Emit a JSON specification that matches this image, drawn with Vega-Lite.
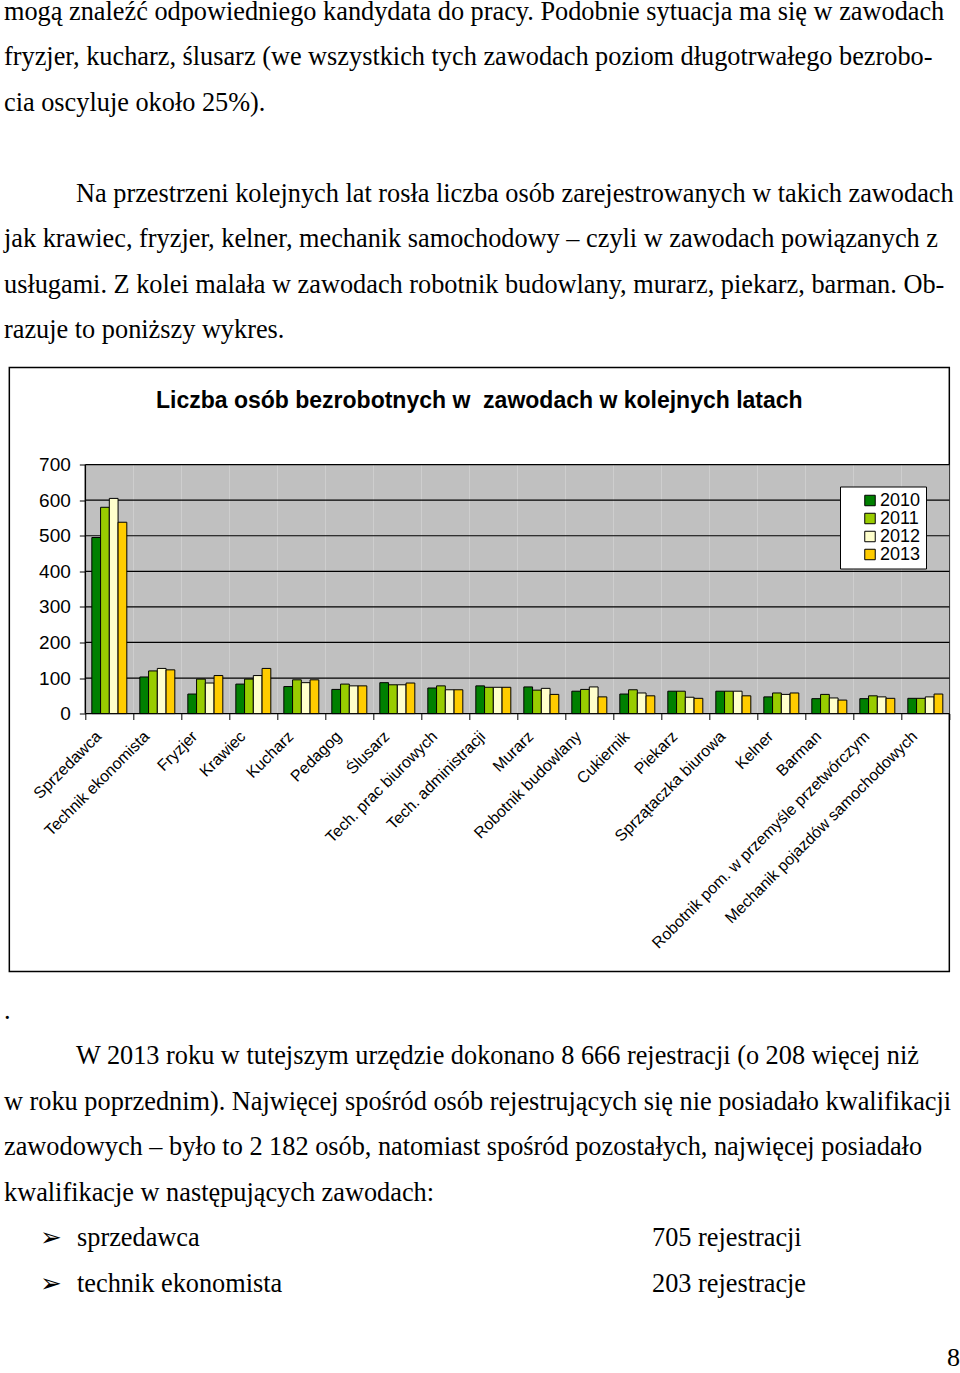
{
  "$schema": "https://vega.github.io/schema/vega-lite/v6.json",
  "padding": {"top": -1.5, "left": 0, "right": 0, "bottom": 0},
  "background": "white",
  "config": {
    "font": "Liberation Sans",
    "view": {"stroke": null},
    "concat": {"spacing": 0}
  },
  "datasets": {
    "gora": [
      {"wiersz": 0, "kol": 0, "tekst": "mogą znaleźć odpowiedniego kandydata do pracy. Podobnie sytuacja ma się w zawodach"},
      {"wiersz": 1, "kol": 0, "tekst": "fryzjer, kucharz, ślusarz (we wszystkich tych zawodach poziom długotrwałego bezrobo-"},
      {"wiersz": 2, "kol": 0, "tekst": "cia oscyluje około 25%)."},
      {"wiersz": 4, "kol": 1, "tekst": "Na przestrzeni kolejnych lat rosła liczba osób zarejestrowanych w takich zawodach"},
      {"wiersz": 5, "kol": 0, "tekst": "jak krawiec, fryzjer, kelner, mechanik samochodowy – czyli w zawodach powiązanych z"},
      {"wiersz": 6, "kol": 0, "tekst": "usługami. Z kolei malała w zawodach robotnik budowlany, murarz, piekarz, barman. Ob-"},
      {"wiersz": 7, "kol": 0, "tekst": "razuje to poniższy wykres."}
    ],
    "dol": [
      {"wiersz": 22, "kol": 0, "tekst": "."},
      {"wiersz": 23, "kol": 1, "tekst": "W 2013 roku w tutejszym urzędzie dokonano 8 666 rejestracji (o 208 więcej niż"},
      {"wiersz": 24, "kol": 0, "tekst": "w roku poprzednim). Najwięcej spośród osób rejestrujących się nie posiadało kwalifikacji"},
      {"wiersz": 25, "kol": 0, "tekst": "zawodowych – było to 2 182 osób, natomiast spośród pozostałych, najwięcej posiadało"},
      {"wiersz": 26, "kol": 0, "tekst": "kwalifikacje w następujących zawodach:"},
      {"wiersz": 27, "kol": 2, "tekst": "➢"},
      {"wiersz": 27, "kol": 3, "tekst": "sprzedawca"},
      {"wiersz": 27, "kol": 4, "tekst": "705 rejestracji"},
      {"wiersz": 28, "kol": 2, "tekst": "➢"},
      {"wiersz": 28, "kol": 3, "tekst": "technik ekonomista"},
      {"wiersz": 28, "kol": 4, "tekst": "203 rejestracje"}
    ],
    "siatka": [
      {"wartosc": 0}, {"wartosc": 100}, {"wartosc": 200}, {"wartosc": 300},
      {"wartosc": 400}, {"wartosc": 500}, {"wartosc": 600}, {"wartosc": 700}
    ],
    "slupki": [
      {"zawod": "Sprzedawca", "rok": "2010", "liczba": 495},
      {"zawod": "Sprzedawca", "rok": "2011", "liczba": 580},
      {"zawod": "Sprzedawca", "rok": "2012", "liczba": 605},
      {"zawod": "Sprzedawca", "rok": "2013", "liczba": 538},
      {"zawod": "Technik ekonomista", "rok": "2010", "liczba": 103},
      {"zawod": "Technik ekonomista", "rok": "2011", "liczba": 120},
      {"zawod": "Technik ekonomista", "rok": "2012", "liczba": 127},
      {"zawod": "Technik ekonomista", "rok": "2013", "liczba": 123},
      {"zawod": "Fryzjer", "rok": "2010", "liczba": 55},
      {"zawod": "Fryzjer", "rok": "2011", "liczba": 97},
      {"zawod": "Fryzjer", "rok": "2012", "liczba": 86},
      {"zawod": "Fryzjer", "rok": "2013", "liczba": 107},
      {"zawod": "Krawiec", "rok": "2010", "liczba": 83},
      {"zawod": "Krawiec", "rok": "2011", "liczba": 97},
      {"zawod": "Krawiec", "rok": "2012", "liczba": 107},
      {"zawod": "Krawiec", "rok": "2013", "liczba": 127},
      {"zawod": "Kucharz", "rok": "2010", "liczba": 76},
      {"zawod": "Kucharz", "rok": "2011", "liczba": 95},
      {"zawod": "Kucharz", "rok": "2012", "liczba": 87},
      {"zawod": "Kucharz", "rok": "2013", "liczba": 95},
      {"zawod": "Pedagog", "rok": "2010", "liczba": 68},
      {"zawod": "Pedagog", "rok": "2011", "liczba": 83},
      {"zawod": "Pedagog", "rok": "2012", "liczba": 78},
      {"zawod": "Pedagog", "rok": "2013", "liczba": 78},
      {"zawod": "Ślusarz", "rok": "2010", "liczba": 87},
      {"zawod": "Ślusarz", "rok": "2011", "liczba": 81},
      {"zawod": "Ślusarz", "rok": "2012", "liczba": 81},
      {"zawod": "Ślusarz", "rok": "2013", "liczba": 86},
      {"zawod": "Tech. prac biurowych", "rok": "2010", "liczba": 72},
      {"zawod": "Tech. prac biurowych", "rok": "2011", "liczba": 78},
      {"zawod": "Tech. prac biurowych", "rok": "2012", "liczba": 67},
      {"zawod": "Tech. prac biurowych", "rok": "2013", "liczba": 67},
      {"zawod": "Tech. administracji", "rok": "2010", "liczba": 78},
      {"zawod": "Tech. administracji", "rok": "2011", "liczba": 74},
      {"zawod": "Tech. administracji", "rok": "2012", "liczba": 74},
      {"zawod": "Tech. administracji", "rok": "2013", "liczba": 74},
      {"zawod": "Murarz", "rok": "2010", "liczba": 75},
      {"zawod": "Murarz", "rok": "2011", "liczba": 66},
      {"zawod": "Murarz", "rok": "2012", "liczba": 71},
      {"zawod": "Murarz", "rok": "2013", "liczba": 54},
      {"zawod": "Robotnik budowlany", "rok": "2010", "liczba": 63},
      {"zawod": "Robotnik budowlany", "rok": "2011", "liczba": 68},
      {"zawod": "Robotnik budowlany", "rok": "2012", "liczba": 75},
      {"zawod": "Robotnik budowlany", "rok": "2013", "liczba": 47},
      {"zawod": "Cukiernik", "rok": "2010", "liczba": 55},
      {"zawod": "Cukiernik", "rok": "2011", "liczba": 67},
      {"zawod": "Cukiernik", "rok": "2012", "liczba": 58},
      {"zawod": "Cukiernik", "rok": "2013", "liczba": 50},
      {"zawod": "Piekarz", "rok": "2010", "liczba": 63},
      {"zawod": "Piekarz", "rok": "2011", "liczba": 63},
      {"zawod": "Piekarz", "rok": "2012", "liczba": 46},
      {"zawod": "Piekarz", "rok": "2013", "liczba": 43},
      {"zawod": "Sprzątaczka biurowa", "rok": "2010", "liczba": 63},
      {"zawod": "Sprzątaczka biurowa", "rok": "2011", "liczba": 63},
      {"zawod": "Sprzątaczka biurowa", "rok": "2012", "liczba": 63},
      {"zawod": "Sprzątaczka biurowa", "rok": "2013", "liczba": 50},
      {"zawod": "Kelner", "rok": "2010", "liczba": 47},
      {"zawod": "Kelner", "rok": "2011", "liczba": 58},
      {"zawod": "Kelner", "rok": "2012", "liczba": 54},
      {"zawod": "Kelner", "rok": "2013", "liczba": 58},
      {"zawod": "Barman", "rok": "2010", "liczba": 42},
      {"zawod": "Barman", "rok": "2011", "liczba": 54},
      {"zawod": "Barman", "rok": "2012", "liczba": 44},
      {"zawod": "Barman", "rok": "2013", "liczba": 38},
      {"zawod": "Robotnik pom. w przemyśle przetwórczym", "rok": "2010", "liczba": 42},
      {"zawod": "Robotnik pom. w przemyśle przetwórczym", "rok": "2011", "liczba": 50},
      {"zawod": "Robotnik pom. w przemyśle przetwórczym", "rok": "2012", "liczba": 47},
      {"zawod": "Robotnik pom. w przemyśle przetwórczym", "rok": "2013", "liczba": 43},
      {"zawod": "Mechanik pojazdów samochodowych", "rok": "2010", "liczba": 43},
      {"zawod": "Mechanik pojazdów samochodowych", "rok": "2011", "liczba": 43},
      {"zawod": "Mechanik pojazdów samochodowych", "rok": "2012", "liczba": 47},
      {"zawod": "Mechanik pojazdów samochodowych", "rok": "2013", "liczba": 55}
    ]
  },
  "vconcat": [
    {
      "width": 960,
      "height": 368,
      "data": {"name": "gora"},
      "mark": {"type": "text", "align": "left", "baseline": "middle", "font": "Liberation Serif", "fontSize": 26.3, "color": "black"},
      "encoding": {
        "x": {"field": "kol", "type": "quantitative", "axis": null,
              "scale": {"domain": [0, 1, 2, 3, 4], "range": [4, 76, 40, 77, 652], "nice": false, "zero": false}},
        "y": {"field": "wiersz", "type": "quantitative", "axis": null,
              "scale": {"domain": [-0.297, 7.8], "reverse": true, "nice": false, "zero": false}},
        "text": {"field": "tekst"}
      }
    },
    {
      "width": 940,
      "height": 604,
      "view": {"stroke": "black", "strokeWidth": 1.5, "fill": "white"},
      "title": {
        "text": "Liczba osób bezrobotnych w\u00a0 zawodach w kolejnych latach",
        "font": "Liberation Sans", "fontSize": 23, "fontWeight": "bold", "color": "black",
        "anchor": "middle", "baseline": "middle", "offset": -56
      },
      "data": {"name": "slupki"},
      "layer": [
        {
          "transform": [{"filter": "datum.rok === '2010'"}],
          "mark": {"type": "rect", "color": "#c0c0c0"},
          "encoding": {
            "x": {"field": "zawod", "type": "nominal", "sort": null,
                  "scale": {"paddingInner": 0, "paddingOuter": 0.7917, "align": 1},
                  "axis": {"title": null, "orient": "bottom", "offset": -258, "domain": false,
                           "tickBand": "extent", "tickSize": 6, "tickColor": "black", "tickWidth": 1,
                           "labelAngle": -45, "labelAlign": "right", "labelBaseline": "middle",
                           "labelFont": "Liberation Sans", "labelFontSize": 16, "labelColor": "black",
                           "labelPadding": 14, "labelOffset": -11, "labelLimit": 400}},
            "y": {"datum": 0, "type": "quantitative",
                  "scale": {"domain": [-725, 973], "nice": false, "zero": false},
                  "axis": {"title": null, "orient": "left", "offset": -76, "domain": false, "grid": false,
                           "values": [0, 100, 200, 300, 400, 500, 600, 700],
                           "tickSize": 6, "tickColor": "black", "tickWidth": 1,
                           "labelFont": "Liberation Sans", "labelFontSize": 19, "labelColor": "black",
                           "labelPadding": 9}},
            "y2": {"datum": 700}
          }
        },
        {
          "data": {"name": "siatka"},
          "mark": {"type": "rule", "color": "black", "strokeWidth": 1.2},
          "encoding": {
            "y": {"field": "wartosc", "type": "quantitative"},
            "x": {"datum": "Sprzedawca", "type": "nominal", "bandPosition": 0},
            "x2": {"datum": "Mechanik pojazdów samochodowych", "bandPosition": 1}
          }
        },
        {
          "data": {"name": "siatka"},
          "transform": [{"filter": "datum.wartosc === 0"}],
          "mark": {"type": "rule", "color": "black", "strokeWidth": 1.5},
          "encoding": {
            "x": {"datum": "Sprzedawca", "type": "nominal", "bandPosition": 0},
            "y": {"datum": 0, "type": "quantitative"},
            "y2": {"datum": 700}
          }
        },
        {
          "mark": {"type": "bar", "stroke": "black", "strokeWidth": 1},
          "encoding": {
            "x": {"field": "zawod", "type": "nominal", "sort": null},
            "xOffset": {"field": "rok", "type": "nominal", "scale": {"paddingInner": 0, "paddingOuter": 0.743}},
            "y": {"field": "liczba", "type": "quantitative"},
            "color": {"field": "rok", "type": "nominal",
                      "scale": {"domain": ["2010", "2011", "2012", "2013"], "range": ["#008000", "#99cc00", "#ffffcc", "#ffcc00"]},
                      "legend": {"title": null, "orient": "none", "legendX": 840, "legendY": 488,
                                 "symbolType": "square", "symbolSize": 110, "symbolStrokeColor": "black", "symbolStrokeWidth": 1,
                                 "labelFont": "Liberation Sans", "labelFontSize": 18, "labelColor": "black",
                                 "fillColor": "white", "strokeColor": "black", "padding": 5, "rowPadding": 0,
                                 "symbolOffset": 16, "labelOffset": 1}}
          }
        }
      ]
    },
    {
      "width": 960,
      "height": 372,
      "title": {"text": "8", "orient": "bottom", "anchor": "end", "font": "Liberation Serif", "fontSize": 26,
                "fontWeight": "normal", "color": "black", "offset": 0, "baseline": "top"},
      "data": {"name": "dol"},
      "mark": {"type": "text", "align": "left", "baseline": "middle", "font": "Liberation Serif", "fontSize": 26.3, "color": "black"},
      "encoding": {
        "x": {"field": "kol", "type": "quantitative", "axis": null,
              "scale": {"domain": [0, 1, 2, 3, 4], "range": [4, 76, 40, 77, 652], "nice": false, "zero": false}},
        "y": {"field": "wiersz", "type": "quantitative", "axis": null,
              "scale": {"domain": [21.155, 29.34], "reverse": true, "nice": false, "zero": false}},
        "text": {"field": "tekst"}
      }
    }
  ],
  "center": true
}
